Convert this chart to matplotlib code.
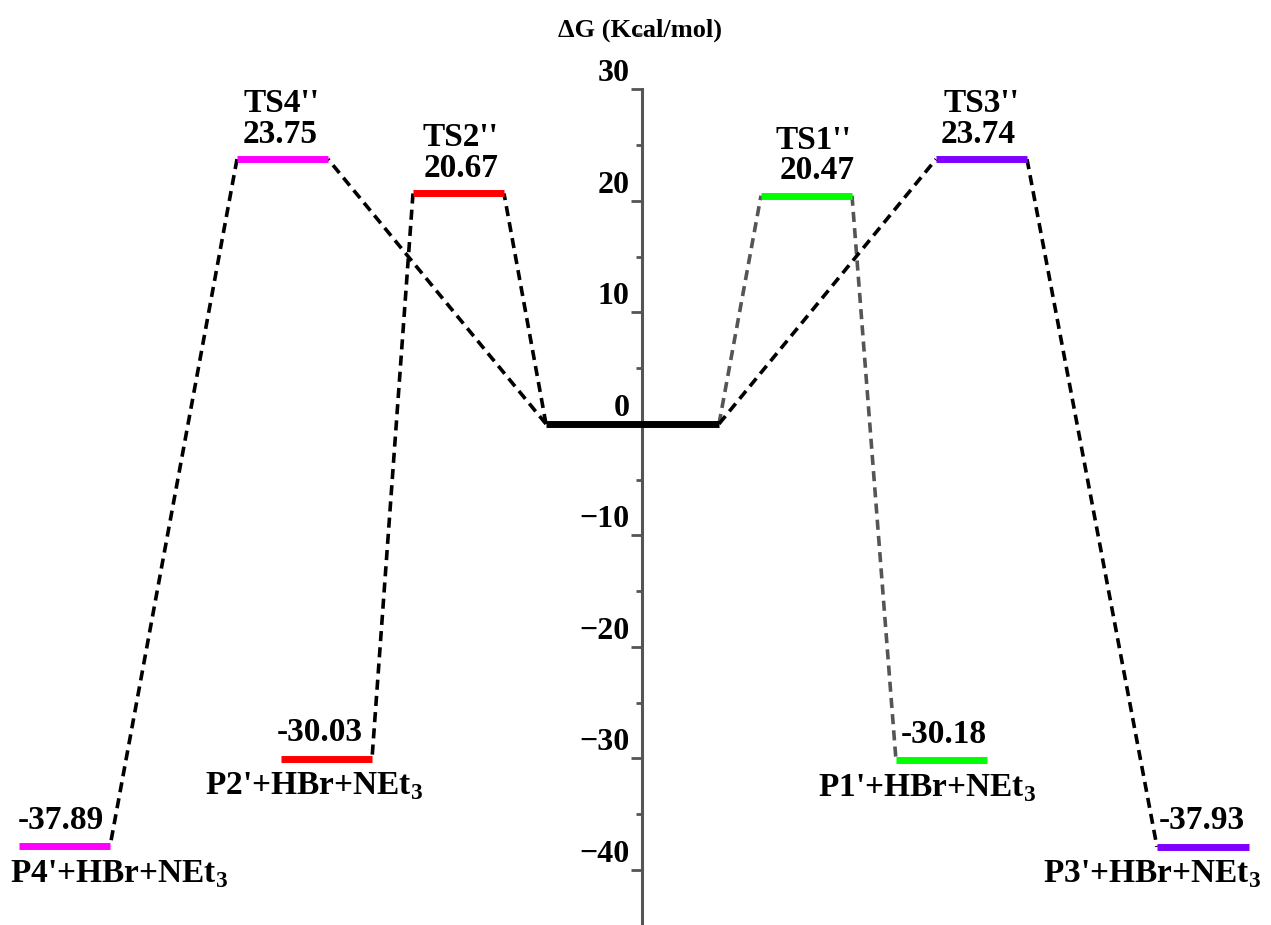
import numpy as np
import matplotlib.pyplot as plt
from matplotlib.transforms import ScaledTranslation
from matplotlib.ticker import MultipleLocator

plt.rcParams['font.family'] = 'Liberation Serif'
plt.rcParams['font.weight'] = 'bold'
plt.rcParams['mathtext.fontset'] = 'custom'
plt.rcParams['mathtext.rm'] = 'Liberation Serif:bold'
plt.rcParams['mathtext.bf'] = 'Liberation Serif:bold'

# energies (kcal/mol)
names = ["R", "TS4''", "TS2''", "TS1''", "TS3''",
         "P4'+HBr+NEt$_3$", "P2'+HBr+NEt$_3$", "P1'+HBr+NEt$_3$", "P3'+HBr+NEt$_3$"]
energies = [0.0, 23.75, 20.67, 20.47, 23.74, -37.89, -30.03, -30.18, -37.93]
value_labels = ["0", "23.75", "20.67", "20.47", "23.74", "-37.89", "-30.03", "-30.18", "-37.93"]
colors = ["black", "#FF00FF", "#FF0000", "#00FF00", "#8000FF",
          "#FF00FF", "#FF0000", "#00FF00", "#8000FF"]

# horizontal extent of each level (layout)
x_left = [546, 237, 413, 761, 936, 19, 281, 896, 1157]
x_right = [719, 328, 504, 852, 1027, 110, 372, 987, 1249]

# connectors: (from level, from side, to level, to side, color)
links = [(0, 0, 1, 1, "black"), (0, 0, 2, 1, "black"),
         (2, 0, 6, 1, "black"), (1, 0, 5, 1, "black"),
         (0, 1, 3, 0, "#555555"), (3, 1, 7, 0, "#555555"),
         (0, 1, 4, 0, "black"), (4, 1, 8, 0, "black")]

fig = plt.figure(figsize=(12.71, 9.25), dpi=100)
ax = fig.add_axes([0, 0, 1, 1])
ax.set_xlim(0, 1271)
ax.set_ylim(-44.94, 38.02)

for a, sa, b, sb, c in links:
    xa = x_left[a] if sa == 0 else x_right[a]
    xb = x_left[b] if sb == 0 else x_right[b]
    ax.plot([xa, xb], [energies[a], energies[b]], color=c, lw=2.6,
            ls=(0, (2.8, 1.7)), zorder=2)

for i in range(len(energies)):
    ax.plot([x_left[i], x_right[i]], [energies[i], energies[i]],
            color=colors[i], lw=5, solid_capstyle='butt', zorder=3)

fs = 24
# transition states: name above value
ts_x = {1: (282, 280), 2: (460, 461), 3: (813, 817), 4: (981, 978)}
for i, (xn, xv) in ts_x.items():
    ax.annotate(value_labels[i], (xv, energies[i]), xytext=(0, 18),
                textcoords='offset points', ha='center', va='center', fontsize=fs)
    ax.annotate(names[i], (xn, energies[i]), xytext=(0, 40),
                textcoords='offset points', ha='center', va='center', fontsize=fs)

# products: value above, name below
pr = {5: (61, 10), 6: (320, 205), 7: (944, 818), 8: (1202, 1043)}
for i, (xv, xn) in pr.items():
    ax.annotate(value_labels[i], (xv, energies[i]), xytext=(0, 19),
                textcoords='offset points', ha='center', va='center', fontsize=fs)
    ax.annotate(names[i], (xn, energies[i]), xytext=(0, -20),
                textcoords='offset points', ha='left', va='center', fontsize=fs)

ax.text(640, 35.3, "ΔG (Kcal/mol)", ha='center', va='center', fontsize=19)

# axis
for s in ['top', 'right', 'bottom']:
    ax.spines[s].set_visible(False)
ax.spines['left'].set_position(('data', 642))
ax.spines['left'].set_bounds(-45, 30)
ax.spines['left'].set_color('#555555')
ax.spines['left'].set_linewidth(2.2)
ax.set_xticks([])
ax.yaxis.set_major_locator(MultipleLocator(10))
ax.yaxis.set_minor_locator(MultipleLocator(5))
ax.set_yticks(np.arange(-40, 31, 10))
ax.set_yticklabels(["\u221240", "\u221230", "\u221220", "\u221210", "0", "10", "20", "30"],
                   fontweight='bold')
ax.tick_params(axis='y', which='major', length=8, width=2, color='#555555',
               pad=1, labelsize=23)
ax.tick_params(axis='y', which='minor', length=4.3, width=2, color='#555555')
off = ScaledTranslation(0, 0.19, fig.dpi_scale_trans)
for lab in ax.get_yticklabels():
    lab.set_transform(lab.get_transform() + off)

fig.savefig("out.png", dpi=100)
